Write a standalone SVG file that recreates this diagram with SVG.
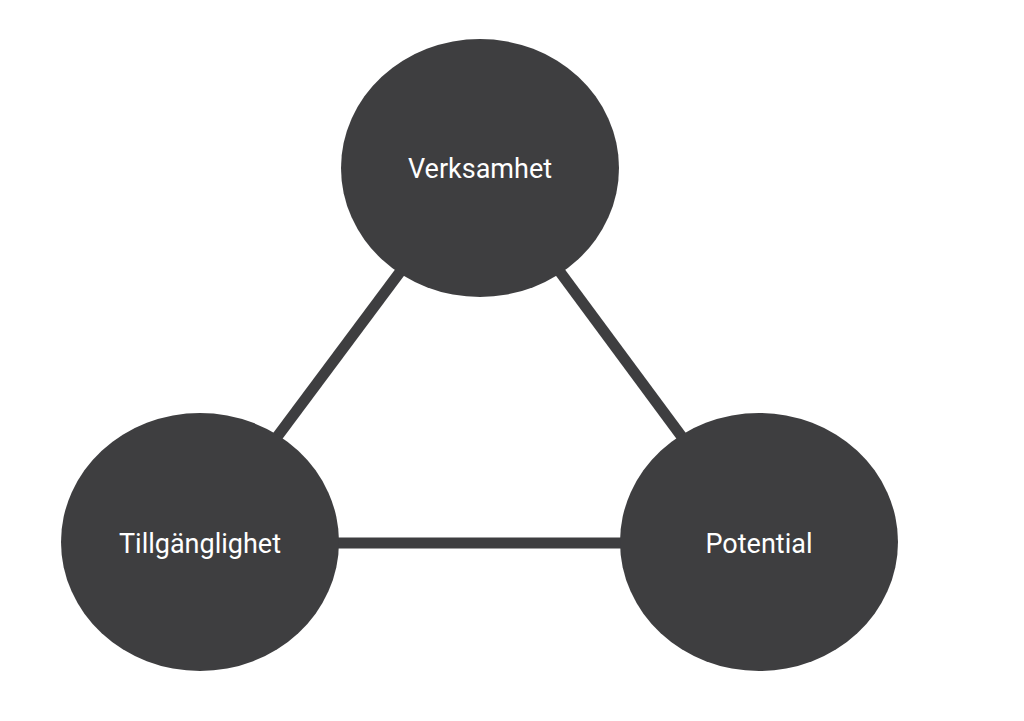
<svg xmlns="http://www.w3.org/2000/svg" width="1024" height="721" viewBox="0 0 1024 721">
<style>
.n{fill:#3e3e40}
.t{fill:#fff;font-family:"Roboto","Liberation Sans",sans-serif;font-size:27px;text-anchor:middle}
.c{stroke:#3e3e40;stroke-width:11;fill:none}
</style>
<rect width="1024" height="721" fill="#fff"/>
<g id="connectors">
<line class="c" x1="400" y1="272" x2="277" y2="437"/>
<line class="c" x1="560" y1="272" x2="682" y2="437"/>
<line class="c" x1="335" y1="543" x2="625" y2="543"/>
</g>
<g id="verksamhet"><ellipse class="n" cx="480" cy="168" rx="139" ry="129"/><text class="t" x="480" y="178">Verksamhet</text></g>
<g id="tillganglighet"><ellipse class="n" cx="200" cy="542" rx="139" ry="129"/><text class="t" x="200" y="553">Tillgänglighet</text></g>
<g id="potential"><ellipse class="n" cx="759" cy="542" rx="139" ry="129"/><text class="t" x="759" y="553">Potential</text></g>
</svg>
